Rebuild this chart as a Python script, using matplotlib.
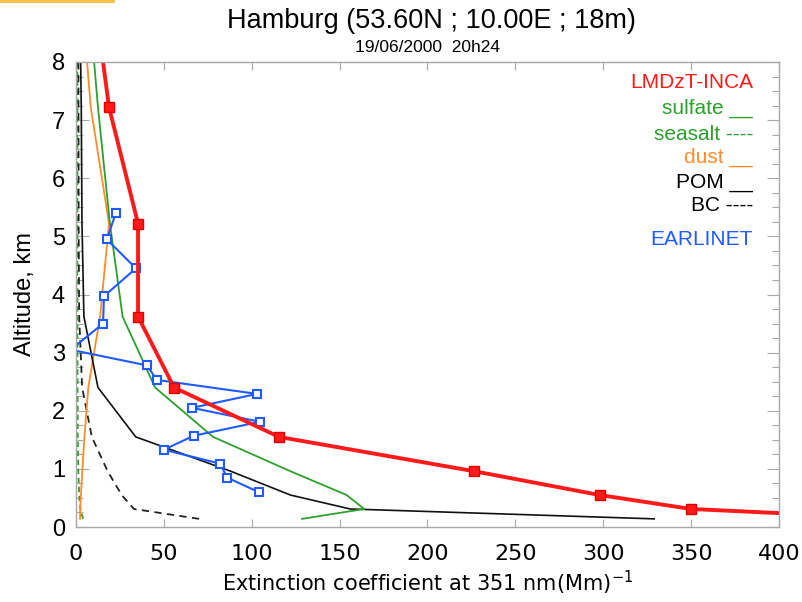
import matplotlib
matplotlib.use('Agg')
import matplotlib.pyplot as plt
from matplotlib.patches import Rectangle
from matplotlib.ticker import MultipleLocator

# model levels (km) and LMDzT-INCA extinction profiles (Mm-1)
z_model = [0.14, 0.31, 0.55, 0.96, 1.55, 2.40, 3.62, 5.22, 7.22, 9.0]
total = [470, 350, 298, 226.5, 115.5, 55.8, 35.3, 35.3, 18.8, 11]
sulfate = [128.6, 164, 154, 122, 78, 45, 26.5, 19.3, 12.5, 7.5]
seasalt = [4, 2.5, 1.8, 1.3, 1.0, 0.9, 0.8, 0.8, 0.8, 0.8]
dust = [2.3, 2.4, 2.8, 3.6, 4.8, 7, 13.7, 18.8, 8.4, 3.6]
pom = [329, 156, 122, 88, 34, 12.5, 4.5, 3.4, 3.0, 2.2]
bc = [70, 33, 26, 18, 9, 3.5, 1.8, 1.5, 1.4, 1.3]

# EARLINET lidar profile
z_obs = [5.41, 4.95, 4.45, 3.97, 3.50, 3.05, 2.78, 2.53, 2.29, 2.05,
         1.81, 1.57, 1.33, 1.09, 0.85, 0.60]
ext_obs = [22.8, 17.5, 34.1, 15.9, 15.4, -3.0, 40.4, 46.0, 103.0, 66.0,
           104.7, 67.0, 50.0, 82.0, 86.0, 104.0]

RED = '#ff1a1a'
GREEN = '#2ca02c'
ORANGE = '#ff8c2a'
BLUE = '#1f5bff'

fig = plt.figure(figsize=(8.03, 6.02), dpi=100)
ax = fig.add_axes([76 / 803, 1 - 527 / 602, 703 / 803, 465 / 602])

ax.plot(seasalt, z_model, color=GREEN, lw=1.3, ls=(0, (3, 2)))
ax.plot(bc, z_model, color='#222222', lw=1.3, ls=(0, (4, 3)))
ax.plot(dust, z_model, color=ORANGE, lw=1.3)
ax.plot(pom, z_model, color='#111111', lw=1.2)
ax.plot(sulfate, z_model, color=GREEN, lw=1.3)
ax.plot(ext_obs, z_obs, color=BLUE, lw=1.5, marker='s', ms=6,
        mfc='white', mec=BLUE, mew=1.5)
ax.plot(total, z_model, color=RED, lw=2.8, marker='s', ms=7.5,
        mfc=RED, mec='#e00000')

ax.set_xlim(0, 400)
ax.set_ylim(0, 8)
ax.xaxis.set_major_locator(MultipleLocator(50))
ax.yaxis.set_major_locator(MultipleLocator(1))
ax.yaxis.set_minor_locator(MultipleLocator(0.25))

for s in ax.spines.values():
    s.set_color('#a8a8a8')
    s.set_linewidth(1.0)
ax.tick_params(which='both', direction='in', top=True, right=True,
               color='#a8a8a8', width=0.8)
ax.tick_params(axis='x', which='major', length=6, pad=12, labelsize=16)
ax.tick_params(axis='y', which='major', length=9, pad=8, labelsize=17)
ax.tick_params(axis='y', which='minor', length=5)
for lab in ax.get_yticklabels():
    lab.set_family('Liberation Sans')
for lab in ax.get_xticklabels():
    lab.set_family('DejaVu Sans')

ax.set_xlabel('Extinction coefficient at 351 nm(Mm)$^{-1}$',
              fontsize=15, family='DejaVu Sans', labelpad=4)
ax.set_ylabel('Altitude, km', fontsize=17, family='Liberation Sans',
              labelpad=11)

fig.text(431 / 803, 1 - 21 / 602, 'Hamburg (53.60N ; 10.00E ; 18m)',
         ha='center', va='center', fontsize=19.5, family='Liberation Sans')
fig.text(428 / 803, 1 - 48 / 602, '19/06/2000  20h24',
         ha='center', va='center', fontsize=12.5, family='Liberation Sans')

# legend written as text, as in the original plot
legend = [
    ('LMDzT-INCA', RED, 83),
    ('sulfate __', GREEN, 108),
    ('seasalt ----', GREEN, 135),
    ('dust __', ORANGE, 157),
    ('POM __', 'black', 182),
    ('BC ----', 'black', 205),
    ('EARLINET', BLUE, 240),
]
for txt, col, ypx in legend:
    fig.text(753 / 803, 1 - ypx / 602, txt, color=col, ha='right',
             va='center', fontsize=15, family='Liberation Sans')

# thin orange strip at the top left corner
fig.add_artist(Rectangle((0, 1 - 3 / 602), 115 / 803, 3 / 602,
                         transform=fig.transFigure, color='#f7c14a', lw=0))

fig.savefig('out.png', dpi=100)
